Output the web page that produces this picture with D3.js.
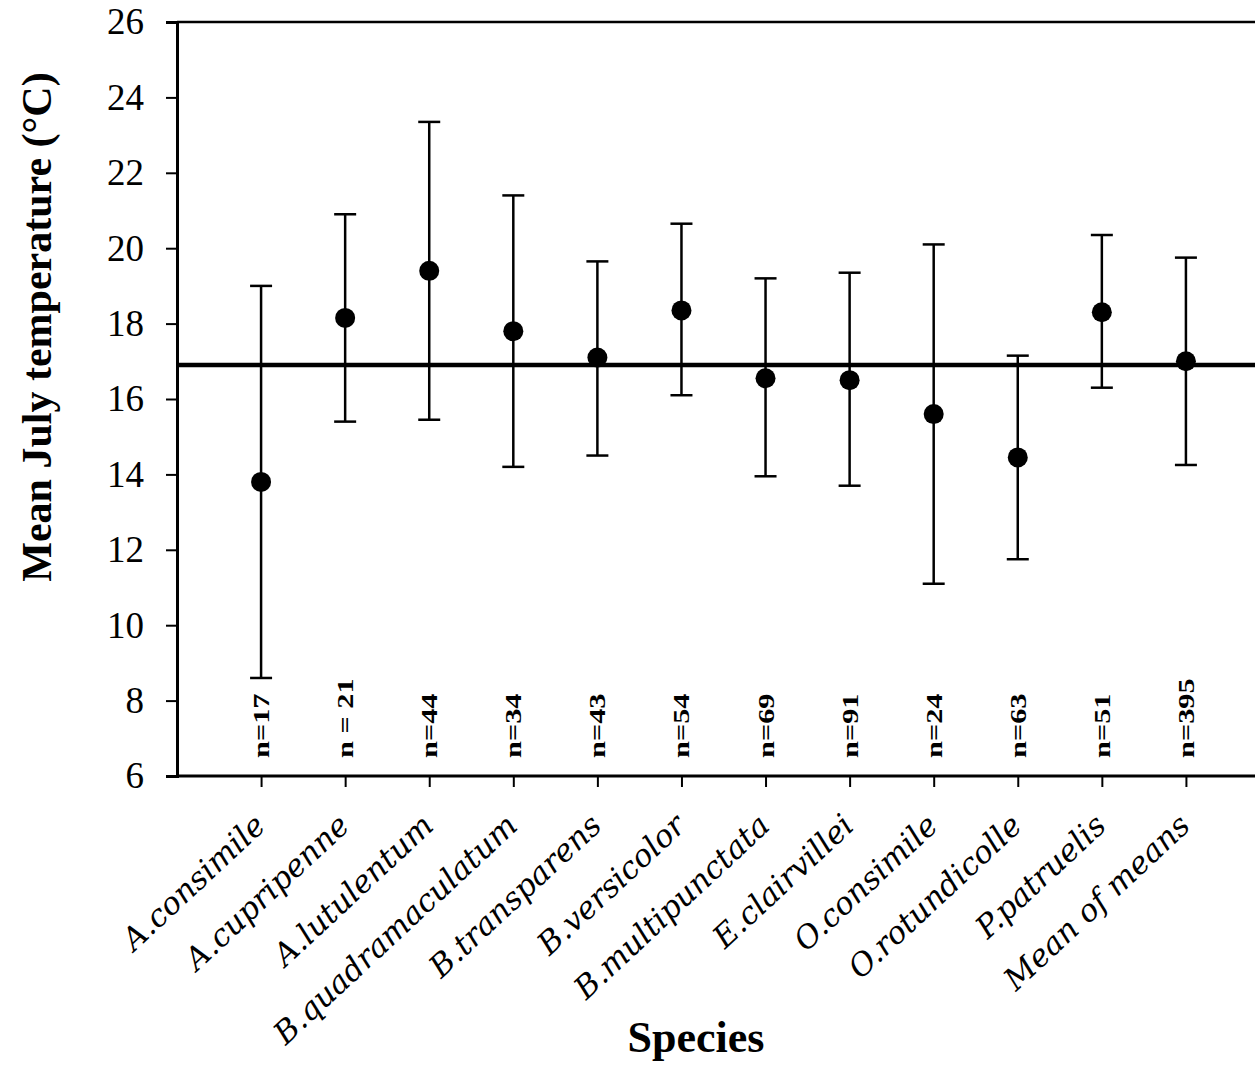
<!DOCTYPE html>
<html><head><meta charset="utf-8">
<script src="https://cdn.jsdelivr.net/npm/d3@7"></script>
<style>body{margin:0;background:#fff}svg{display:block}</style>
</head><body>
<svg id="c" width="1255" height="1070"></svg>
<script>
const species = ["A.consimile","A.cupripenne","A.lutulentum","B.quadramaculatum","B.transparens","B.versicolor","B.multipunctata","E.clairvillei","O.consimile","O.rotundicolle","P.patruelis","Mean of means"];
const means = [13.8,18.15,19.4,17.8,17.1,18.35,16.55,16.5,15.6,14.45,18.3,17.0];
const upper = [19.0,20.9,23.35,21.4,19.65,20.65,19.2,19.35,20.1,17.15,20.35,19.75];
const lower = [8.6,15.4,15.45,14.2,14.5,16.1,13.95,13.7,11.1,11.75,16.3,14.25];
const nLabels = ["n=17","n = 21","n=44","n=34","n=43","n=54","n=69","n=91","n=24","n=63","n=51","n=395"];
const overallMean = 16.9;
const yTicks = [6,8,10,12,14,16,18,20,22,24,26];

(function(){
const svg = d3.select("#c");
const mLeft = 177, mTop = 22, mBottom = 776, mRight = 1270;
const y = d3.scaleLinear().domain([6,26]).range([mBottom, mTop]);
const x = d3.scalePoint().domain(["", ...species, " "]).range([mLeft, mRight]);
const font = "'Times New Roman','Liberation Serif',serif";

svg.append("line").attr("x1",mLeft).attr("x2",1255).attr("y1",mTop).attr("y2",mTop)
  .attr("stroke","#000").attr("stroke-width",2.5);

const ya = svg.append("g").attr("transform",`translate(${mLeft},0)`)
  .call(d3.axisLeft(y).tickValues(yTicks).tickSize(11).tickPadding(22));
ya.select(".domain").attr("stroke-width",3);
ya.selectAll(".tick line").attr("stroke-width",2);
ya.selectAll("text").attr("font-family",font).attr("font-size",37).attr("fill","#000");

const xa = svg.append("g").attr("transform",`translate(0,${mBottom})`)
  .call(d3.axisBottom(x).tickValues(species).tickSize(11).tickSizeOuter(0).tickFormat(""));
xa.select(".domain").attr("stroke-width",3).attr("d",`M${mLeft},0H1255`);
xa.selectAll(".tick line").attr("stroke-width",2);

svg.append("g").selectAll("text").data(species).join("text")
  .attr("transform",d=>`translate(${x(d)+6},${mBottom+52}) rotate(-43)`)
  .attr("text-anchor","end")
  .attr("font-family","'DejaVu Serif',serif")
  .attr("font-style","italic").attr("font-size",31).text(d=>d);

svg.append("line").attr("x1",mLeft).attr("x2",1255).attr("y1",y(overallMean)).attr("y2",y(overallMean))
  .attr("stroke","#000").attr("stroke-width",4.5);

const g = svg.append("g");
species.forEach((s,i)=>{
  const cx = x(s);
  g.append("line").attr("x1",cx).attr("x2",cx).attr("y1",y(upper[i])).attr("y2",y(lower[i]))
    .attr("stroke","#000").attr("stroke-width",2.5);
  [upper[i],lower[i]].forEach(v=>{
    g.append("line").attr("x1",cx-11).attr("x2",cx+11).attr("y1",y(v)).attr("y2",y(v))
      .attr("stroke","#000").attr("stroke-width",2.5);
  });
  g.append("circle").attr("cx",cx).attr("cy",y(means[i])).attr("r",10).attr("fill","#000");
});

svg.append("g").selectAll("text").data(species).join("text")
  .attr("transform",(d,i)=>`translate(${x(d)+8},758) rotate(-90) scale(1.32,1)`)
  .attr("text-anchor","start")
  .attr("font-family",font).attr("font-weight","bold").attr("font-size",23)
  .text((d,i)=>nLabels[i]);

svg.append("text").attr("transform","translate(51,327) rotate(-90)")
  .attr("text-anchor","middle").attr("font-family",font).attr("font-weight","bold")
  .attr("font-size",42).text("Mean July temperature (°C)");
svg.append("text").attr("x",696).attr("y",1052).attr("text-anchor","middle")
  .attr("font-family",font).attr("font-weight","bold").attr("font-size",44).text("Species");
})();
</script>
</body></html>
